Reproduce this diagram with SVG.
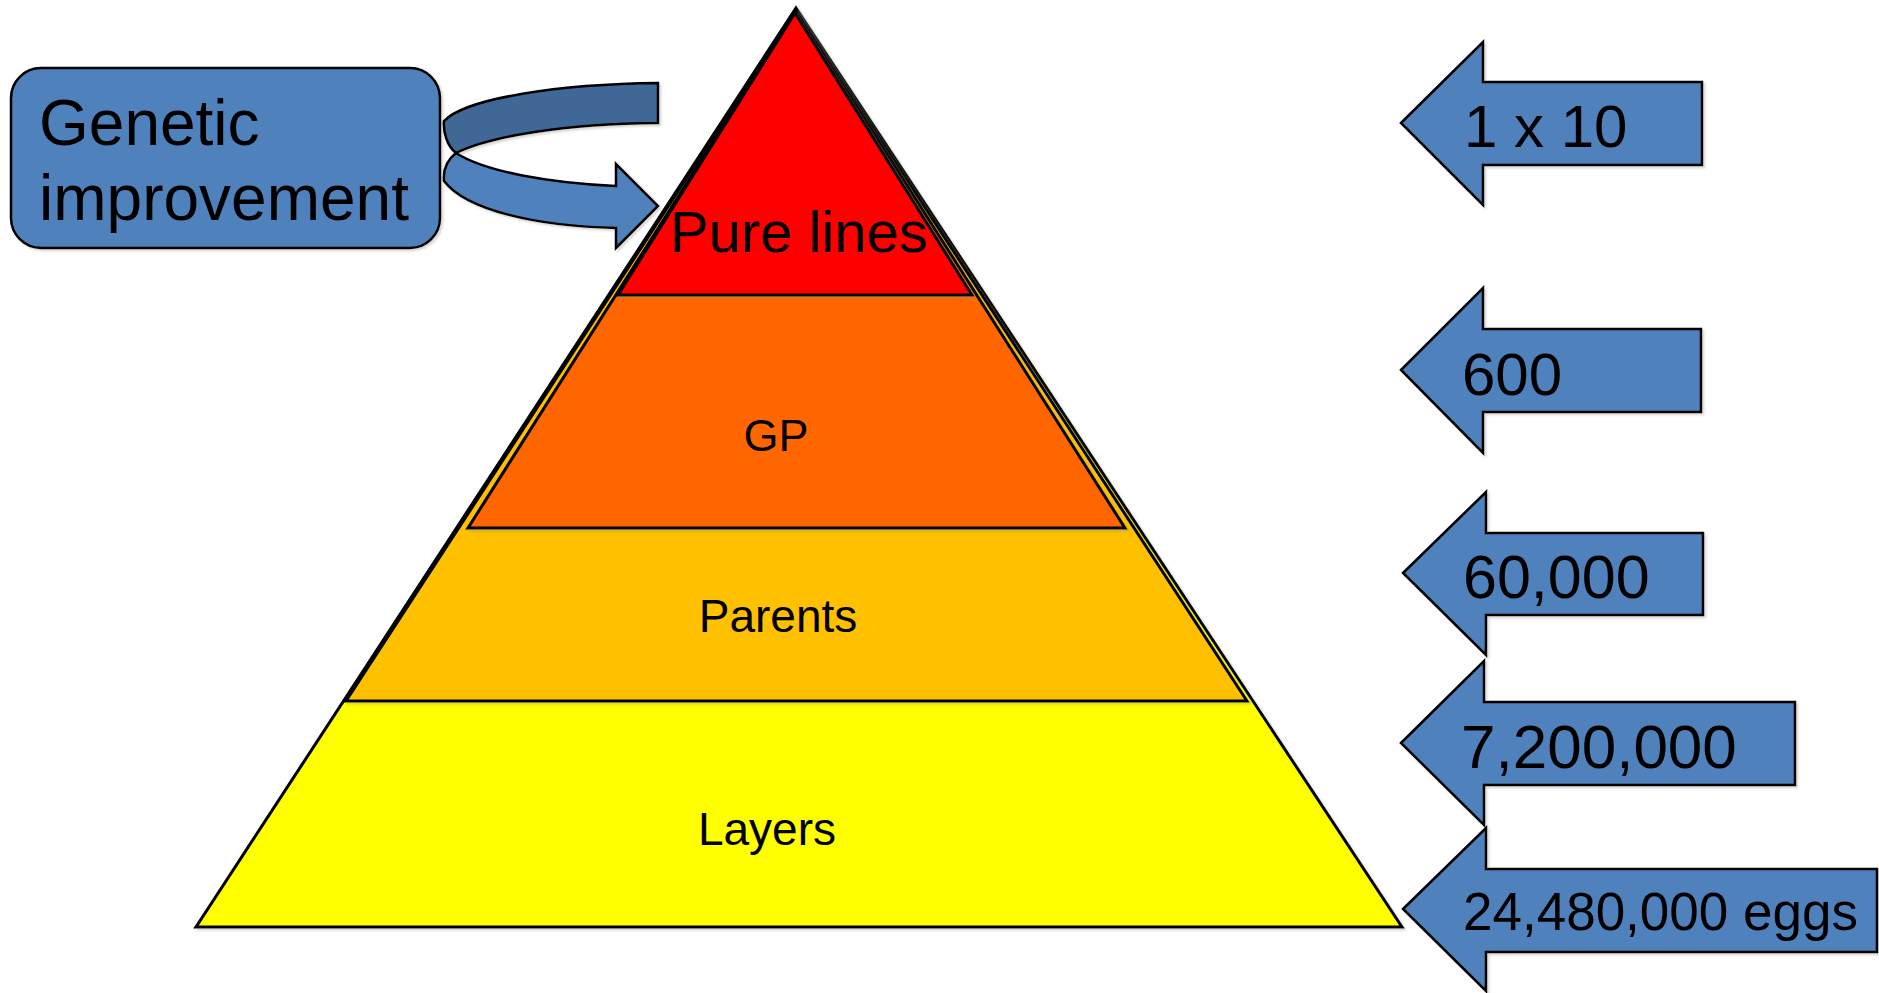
<svg xmlns="http://www.w3.org/2000/svg" width="1879" height="993" viewBox="0 0 1879 993">
  <defs>
    <filter id="shadow" x="-5%" y="-5%" width="110%" height="110%">
      <feDropShadow dx="2" dy="2" stdDeviation="1" flood-color="#8a8a80" flood-opacity="0.35"/>
    </filter>
  </defs>
  <style>
    .tier { stroke: #000; stroke-width: 3; stroke-linejoin: miter; filter: url(#shadow); }
    .blue { fill: #4F81BD; stroke: #000; stroke-width: 2.5; stroke-linejoin: miter; filter: url(#shadow); }
    .dark { fill: #3F6797; stroke: #000; stroke-width: 2.5; filter: url(#shadow); }
    .label { font-family: "Liberation Sans", Arial, sans-serif; fill: #000; }
  </style>

  <!-- Pyramid tiers, largest first -->
  <g id="layers">
    <polygon class="tier" fill="#FFFF00" points="796,8 1402,927 196,927"/>
    <text class="label" x="767" y="845" font-size="46" text-anchor="middle">Layers</text>
  </g>
  <g id="parents">
    <polygon class="tier" fill="#FFC000" points="796,10 1247,701 346,701"/>
    <text class="label" x="778" y="632" font-size="46" text-anchor="middle">Parents</text>
  </g>
  <g id="gp">
    <polygon class="tier" fill="#FF6600" points="796,11 1125,528 468,528"/>
    <text class="label" x="776" y="451" font-size="45" text-anchor="middle">GP</text>
  </g>
  <g id="pure-lines">
    <polygon class="tier" fill="#FF0000" points="795,13 972,295 618,295"/>
    <text class="label" x="799" y="252" font-size="58" text-anchor="middle">Pure lines</text>
  </g>

  <!-- Genetic improvement box -->
  <g id="genetic-improvement">
    <rect class="blue" x="11" y="68" width="429" height="180" rx="30" ry="30"/>
    <text class="label" x="39" y="145" font-size="64">Genetic</text>
    <text class="label" x="39" y="220" font-size="64">improvement</text>
  </g>

  <!-- Connectors -->
  <g id="connectors">
    <!-- curved arrow from the box into the top tier -->
    <g id="curved-arrow">
      <path class="dark" d="M658,83 L658,123 C565,124 490,136 456,153 C447,146 443,132 444,121 C466,98 560,84 658,83 Z"/>
      <path class="blue" d="M456,153 C486,172 550,183 616,186 L616,164 L658,206 L616,248 L616,228 C535,226 466,210 444,181 C443,170 447,160 456,153 Z"/>
    </g>
    <!-- count arrows pointing at the tiers -->
    <g id="count-1x10">
      <polygon class="blue" points="1401,123 1483,42 1483,82 1702,82 1702,165 1483,165 1483,205"/>
      <text class="label" x="1464" y="147" font-size="60">1 x 10</text>
    </g>
    <g id="count-600">
      <polygon class="blue" points="1401,370 1483,288 1483,329 1701,329 1701,412 1483,412 1483,453"/>
      <text class="label" x="1462" y="395" font-size="60">600</text>
    </g>
    <g id="count-60000">
      <polygon class="blue" points="1403,573 1486,492 1486,533 1703,533 1703,615 1486,615 1486,655"/>
      <text class="label" x="1463" y="598" font-size="61">60,000</text>
    </g>
    <g id="count-7200000">
      <polygon class="blue" points="1401,743 1484,661 1484,702 1795,702 1795,785 1484,785 1484,825"/>
      <text class="label" x="1461" y="768" font-size="62">7,200,000</text>
    </g>
    <g id="count-eggs">
      <polygon class="blue" points="1403,909 1486,828 1486,869 1877,869 1877,952 1486,952 1486,991"/>
      <text class="label" x="1463" y="930" font-size="53">24,480,000 eggs</text>
    </g>
  </g>
</svg>
